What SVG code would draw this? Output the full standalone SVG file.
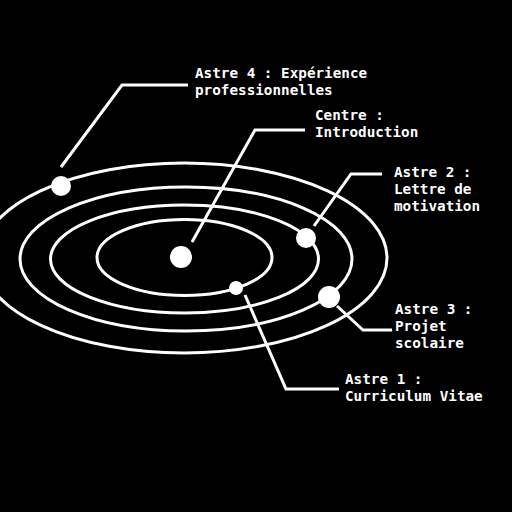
<svg xmlns="http://www.w3.org/2000/svg" width="512" height="512" viewBox="0 0 512 512">
<style>
.orbit{fill:none;stroke:#fff;stroke-width:3}
.planet{fill:#fff}
.conn{fill:none;stroke:#fff;stroke-width:3}
text{font-family:"DejaVu Sans Mono","Liberation Mono",monospace;font-weight:bold;font-size:14.3px;fill:#fff}
</style>
<rect width="512" height="512" fill="#000"/>
<g id="orbits">
<ellipse class="orbit" cx="184" cy="258" rx="203" ry="95"/>
<ellipse class="orbit" cx="186" cy="259" rx="166" ry="72"/>
<ellipse class="orbit" cx="184.5" cy="259" rx="134" ry="54"/>
<ellipse class="orbit" cx="184.5" cy="257.5" rx="87.5" ry="38"/>
</g>
<g id="connectors">
<polyline class="conn" points="61,167 122,85 188,85"/>
<polyline class="conn" points="192,242 255,130 305,130"/>
<polyline class="conn" points="314,226 351,174 382,174"/>
<polyline class="conn" points="337,306 363,330 392,330"/>
<polyline class="conn" points="245,295 286,389 339,389"/>
</g>
<g id="centre">
<circle class="planet" cx="181" cy="257" r="11"/>
<text x="315" y="120">Centre :</text>
<text x="315" y="137">Introduction</text>
</g>
<g id="astre1">
<circle class="planet" cx="236" cy="288" r="7"/>
<text x="345" y="384">Astre 1 :</text>
<text x="345" y="401">Curriculum Vitae</text>
</g>
<g id="astre2">
<circle class="planet" cx="306" cy="238" r="10"/>
<text x="394" y="177">Astre 2 :</text>
<text x="394" y="194">Lettre de</text>
<text x="394" y="211">motivation</text>
</g>
<g id="astre3">
<circle class="planet" cx="329" cy="297" r="11"/>
<text x="395" y="314">Astre 3 :</text>
<text x="395" y="331">Projet</text>
<text x="395" y="348">scolaire</text>
</g>
<g id="astre4">
<circle class="planet" cx="61" cy="186" r="10"/>
<text x="195" y="78">Astre 4 : Expérience</text>
<text x="195" y="95">professionnelles</text>
</g>
</svg>
